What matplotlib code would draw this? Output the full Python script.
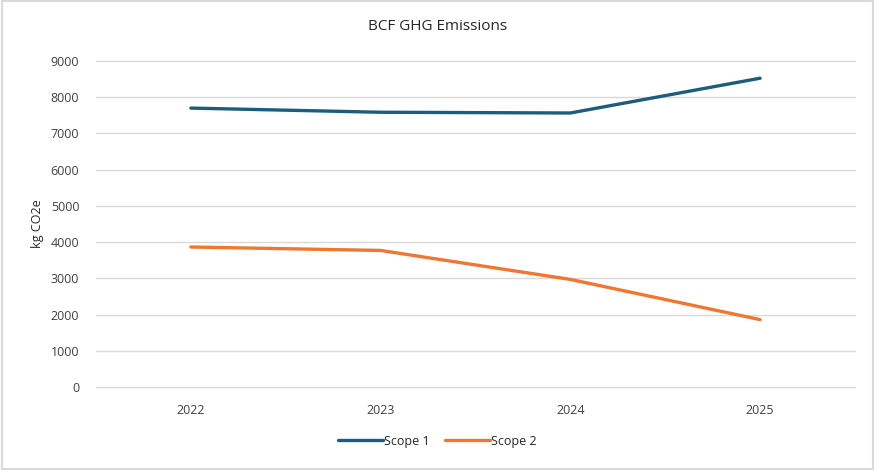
import matplotlib
matplotlib.use('Agg')
import matplotlib.pyplot as plt
import numpy as np

years = ['2022', '2023', '2024', '2025']
scope1 = [7700, 7585, 7565, 8525]
scope2 = [3865, 3770, 2970, 1860]
yticks = [0, 1000, 2000, 3000, 4000, 5000, 6000, 7000, 8000, 9000]

plt.rcParams['font.family'] = ['Open Sans', 'DejaVu Sans']

fig = plt.figure(figsize=(8.75, 4.7), dpi=100)
ax = fig.add_axes([96 / 875, 1 - 387 / 470, (855 - 96) / 875, (387 - 61) / 470])

x = np.arange(len(years))
ax.plot(x, scope1, color='#1C5D7E', lw=2.4, label='Scope 1', solid_capstyle='round')
ax.plot(x, scope2, color='#EE7732', lw=2.4, label='Scope 2', solid_capstyle='round')

ax.set_xlim(-0.5, len(years) - 0.5)
ax.set_ylim(0, 9000)
ax.set_xticks(x)
ax.set_xticklabels(years, fontsize=9, color='#404040')
ax.set_yticks(yticks)
ax.set_yticklabels([str(v) for v in yticks], fontsize=9, color='#404040')
ax.tick_params(length=0, pad=12)
ax.tick_params(axis='y', pad=12)
ax.grid(axis='y', color='#D9D9D9', lw=1)
for gl in ax.get_ygridlines():
    gl.set_clip_on(False)
ax.set_axisbelow(True)
for s in ax.spines.values():
    s.set_visible(False)

ax.set_ylabel('kg CO2e', fontsize=9, color='#262626', labelpad=5)
fig.text(0.5, 1 - 27 / 470, 'BCF GHG Emissions', ha='center', va='center',
         fontsize=11, color='#262626')

ax.legend(loc='center', bbox_to_anchor=(0.5, 1 - 441 / 470), bbox_transform=fig.transFigure,
          ncol=2, frameon=False, fontsize=9, handlelength=3.6, handletextpad=0.1,
          columnspacing=1.2, labelcolor='#262626')

# light frame round the chart
fig.patches.append(plt.Rectangle((0.002, 0.003), 0.996, 0.994, transform=fig.transFigure,
                                 fill=False, edgecolor='#D9D9D9', lw=1.5))

fig.savefig('out.png', dpi=100)
